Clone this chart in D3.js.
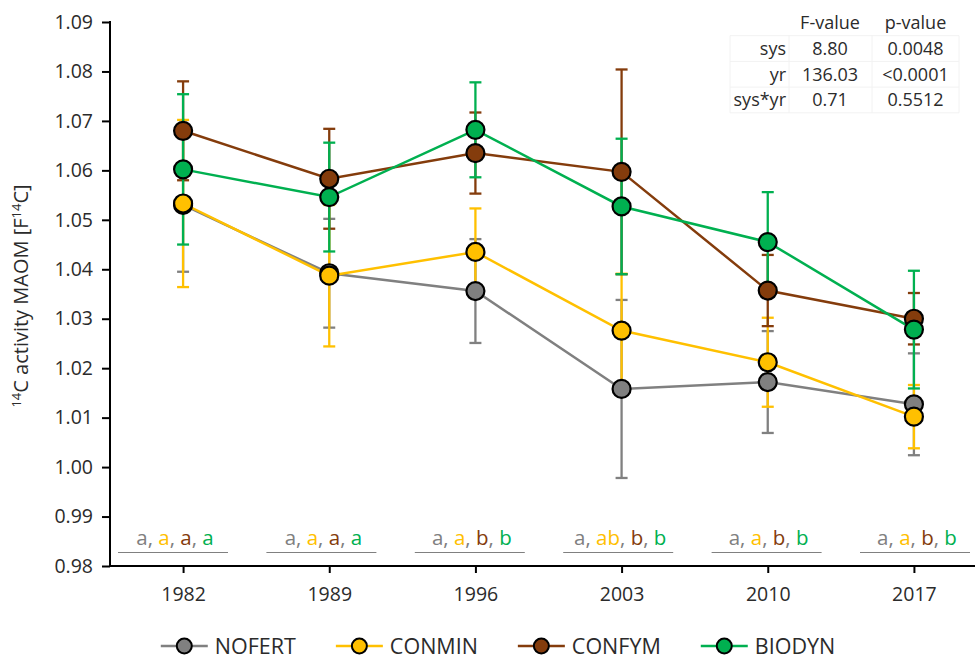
<!DOCTYPE html>
<html>
<head>
<meta charset="utf-8">
<script src="https://cdn.jsdelivr.net/npm/d3@7"></script>
<style>
  html, body { margin: 0; padding: 0; background: #fff; }
  svg { display: block; font-family: "Open Sans", "Noto Sans", sans-serif; }
</style>
</head>
<body>
<svg id="chart" width="975" height="661"></svg>
<script>
// ---------- data ----------
const years = ["1982", "1989", "1996", "2003", "2010", "2017"];
const seriesNames = ["NOFERT", "CONMIN", "CONFYM", "BIODYN"];
const seriesColors = ["#808080", "#FFC000", "#843C0C", "#00B050"];

const nofertMean = [1.0530, 1.0392, 1.0356, 1.0158, 1.0172, 1.0127];
const nofertErr  = [0.0135, 0.0110, 0.0105, 0.0180, 0.0103, 0.0103];
const conminMean = [1.0533, 1.0387, 1.0435, 1.0276, 1.0212, 1.0102];
const conminErr  = [0.0169, 0.0143, 0.0088, 0.0115, 0.0090, 0.0064];
const confymMean = [1.0680, 1.0583, 1.0635, 1.0597, 1.0357, 1.0300];
const confymErr  = [0.0100, 0.0101, 0.0082, 0.0207, 0.0072, 0.0052];
const biodynMean = [1.0602, 1.0546, 1.0682, 1.0527, 1.0455, 1.0278];
const biodynErr  = [0.0152, 0.0110, 0.0096, 0.0137, 0.0101, 0.0119];

const yTicks = [0.98, 0.99, 1.00, 1.01, 1.02, 1.03, 1.04, 1.05, 1.06, 1.07, 1.08, 1.09];

// significance letters per year, per series
const letters = [
  ["a", "a", "a", "a"],
  ["a", "a", "a", "a"],
  ["a", "a", "b", "b"],
  ["a", "ab", "b", "b"],
  ["a", "a", "b", "b"],
  ["a", "a", "b", "b"]
];

// ANOVA table
const tableHeader = ["", "F-value", "p-value"];
const tableRows = [
  ["sys", "8.80", "0.0048"],
  ["yr", "136.03", "<0.0001"],
  ["sys*yr", "0.71", "0.5512"]
];

const means = [nofertMean, conminMean, confymMean, biodynMean];
const errs = [nofertErr, conminErr, confymErr, biodynErr];
const series = seriesNames.map((name, s) => ({
  name, color: seriesColors[s],
  points: years.map((yr, i) => ({ year: yr, v: means[s][i], e: errs[s][i] }))
}));

// ---------- layout ----------
const svg = d3.select("#chart");
const pLeft = 110, pRight = 987, pTop = 22, pBottom = 566;
const textColor = "#2b2b2b";

const x = d3.scalePoint().domain(years).range([pLeft, pRight]).padding(0.5);
const y = d3.scaleLinear().domain([0.98, 1.09]).range([pBottom, pTop]);
// annotation positions (letters + underline) drift slightly from ticks in the reference
const xl = d3.scalePoint().domain(years).range([173, 915]);

// ---------- table (top right) ----------
const colEdges = [730, 789, 872, 959];
const rowH = 25.7, tableTop = 10;
const tg = svg.append("g");
const allRows = [tableHeader, ...tableRows];
allRows.forEach((r, ri) => {
  const cy = tableTop + rowH * ri + rowH / 2;
  for (let c = 0; c < 3; c++) {
    if (!r[c]) continue;
    const t = tg.append("text")
      .attr("y", cy)
      .attr("dy", "0.35em")
      .attr("font-size", 18)
      .attr("fill", textColor)
      .text(r[c]);
    if (c === 0) t.attr("x", colEdges[1] - 3).attr("text-anchor", "end");
    else t.attr("x", (colEdges[c] + colEdges[c + 1]) / 2 + (c === 1 ? -0.5 : 0)).attr("text-anchor", "middle");
  }
});
// faint grid
for (let ri = 1; ri <= allRows.length; ri++) {
  tg.append("line").attr("x1", colEdges[0]).attr("x2", colEdges[3])
    .attr("y1", tableTop + rowH * ri).attr("y2", tableTop + rowH * ri)
    .attr("stroke", "#f2f2f2").attr("stroke-width", 1);
}
colEdges.forEach(cx => {
  tg.append("line").attr("x1", cx).attr("x2", cx)
    .attr("y1", tableTop + rowH).attr("y2", tableTop + rowH * allRows.length)
    .attr("stroke", "#f2f2f2").attr("stroke-width", 1);
});

// ---------- axes ----------
const yAxis = d3.axisLeft(y).tickValues(yTicks).tickFormat(d3.format(".2f")).tickSize(8).tickPadding(9);
const gy = svg.append("g").attr("transform", `translate(${pLeft},0)`).call(yAxis);
gy.select(".domain").attr("stroke", "#000").attr("stroke-width", 2).attr("d", `M0,${pTop - 1}V${pBottom}`);
gy.selectAll(".tick line").attr("stroke", "#000").attr("stroke-width", 2);
gy.selectAll(".tick text").attr("font-size", 19.5).attr("fill", textColor).attr("font-family", "Open Sans");

const xAxis = d3.axisBottom(x).tickSize(7).tickPadding(14);
const gx = svg.append("g").attr("transform", `translate(0,${pBottom})`).call(xAxis);
gx.select(".domain").attr("stroke", "#000").attr("stroke-width", 2).attr("d", `M${pLeft - 1},0H975`);
gx.selectAll(".tick line").attr("stroke", "#000").attr("stroke-width", 2);
gx.selectAll(".tick text").attr("font-size", 19.5).attr("fill", textColor).attr("font-family", "Open Sans");

// y title
const yt = svg.append("text")
  .attr("transform", `translate(28,${(pTop + pBottom) / 2 + 2}) rotate(-90)`)
  .attr("text-anchor", "middle")
  .attr("font-size", 20)
  .attr("fill", textColor);
yt.append("tspan").attr("font-size", 13).attr("dy", -7).text("14");
yt.append("tspan").attr("dy", 7).text("C activity MAOM [F");
yt.append("tspan").attr("font-size", 13).attr("dy", -7).text("14");
yt.append("tspan").attr("dy", 7).text("C]");

// ---------- significance letters ----------
years.forEach((yr, i) => {
  const cx = xl(yr);
  svg.append("line").attr("x1", cx - 55).attr("x2", cx + 55)
    .attr("y1", 552.5).attr("y2", 552.5)
    .attr("stroke", "#808080").attr("stroke-width", 1.2);
  const t = svg.append("text").attr("x", cx + 2).attr("y", 545)
    .attr("text-anchor", "middle").attr("font-size", 20.5);
  letters[i].forEach((l, s) => {
    t.append("tspan").attr("fill", seriesColors[s]).text(l);
    if (s < 3) t.append("tspan").attr("fill", "#808080").text(", ");
  });
});

// ---------- error bars ----------
const capW = 6;
series.forEach(s => {
  const g = svg.append("g").attr("stroke", s.color).attr("stroke-width", 2.3).attr("fill", "none");
  s.points.forEach(p => {
    const cx = x(p.year);
    g.append("line").attr("x1", cx).attr("x2", cx).attr("y1", y(p.v - p.e)).attr("y2", y(p.v + p.e));
    g.append("line").attr("x1", cx - capW).attr("x2", cx + capW).attr("y1", y(p.v + p.e)).attr("y2", y(p.v + p.e));
    g.append("line").attr("x1", cx - capW).attr("x2", cx + capW).attr("y1", y(p.v - p.e)).attr("y2", y(p.v - p.e));
  });
});

// ---------- lines ----------
const line = d3.line().x(d => x(d.year)).y(d => y(d.v));
series.forEach(s => {
  svg.append("path").datum(s.points).attr("d", line)
    .attr("fill", "none").attr("stroke", s.color).attr("stroke-width", 2.5);
});

// ---------- markers ----------
series.forEach(s => {
  svg.append("g").selectAll("circle").data(s.points).join("circle")
    .attr("cx", d => x(d.year)).attr("cy", d => y(d.v)).attr("r", 9)
    .attr("fill", s.color).attr("stroke", "#000").attr("stroke-width", 2.2);
});

// ---------- legend ----------
const lg = svg.append("g");
const legendY = 646, segW = 47, gapText = 7, gapItem = 40;
let cursor = 0;
series.forEach(s => {
  const g = lg.append("g");
  g.append("line").attr("x1", 0).attr("x2", segW).attr("y1", 0).attr("y2", 0)
    .attr("stroke", s.color).attr("stroke-width", 2.5);
  g.append("circle").attr("cx", segW / 2).attr("cy", 0).attr("r", 7.5)
    .attr("fill", s.color).attr("stroke", "#000").attr("stroke-width", 2);
  const t = g.append("text").attr("x", segW + gapText).attr("y", 0).attr("dy", "0.35em")
    .attr("font-size", 21.5).attr("fill", textColor).text(s.name);
  const w = segW + gapText + t.node().getComputedTextLength();
  g.attr("transform", `translate(${cursor},${legendY})`);
  cursor += w + gapItem;
});
const totalW = cursor - gapItem;
lg.attr("transform", `translate(${498 - totalW / 2},0)`);
</script>
</body>
</html>
